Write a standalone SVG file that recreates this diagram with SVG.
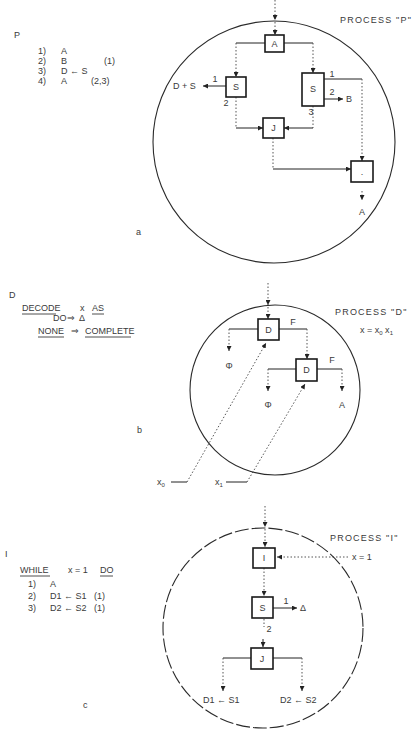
<svg xmlns="http://www.w3.org/2000/svg" width="415" height="730" viewBox="0 0 415 730">
<style>
  text { font-family: "Liberation Sans", "DejaVu Sans", sans-serif; font-size: 9px; fill: #3a3a3a; }
  .lbl { text-anchor: middle; }
  .proc { letter-spacing: 1.2px; }
  .box { fill: #fff; stroke: #1a1a1a; stroke-width: 1.6; }
  .circ { fill: none; stroke: #2a2a2a; stroke-width: 1.1; }
  .solid { fill: none; stroke: #222; stroke-width: 1; }
  .dot { fill: none; stroke: #555; stroke-width: 1; stroke-dasharray: 1.5 2; }
  .ul { stroke: #3a3a3a; stroke-width: 0.9; }
</style>
<defs>
  <marker id="ah" viewBox="0 0 6 6" refX="6" refY="3" markerWidth="5" markerHeight="5" orient="auto" markerUnits="userSpaceOnUse">
    <path d="M0,0 L6,3 L0,6 z" fill="#222"/>
  </marker>
</defs>

<!-- ===== Section a ===== -->
<g id="text-a">
  <text x="14" y="38">P</text>
  <text x="38" y="54">1)</text><text x="61" y="54">A</text>
  <text x="38" y="64">2)</text><text x="61" y="64">B</text><text x="104" y="64">(1)</text>
  <text x="38" y="74">3)</text><text x="61" y="74">D ← S</text>
  <text x="38" y="84">4)</text><text x="61" y="84">A</text><text x="91" y="84">(2,3)</text>
  <text x="136" y="235">a</text>
  <text class="proc" x="340" y="23">PROCESS "P"</text>
</g>
<g id="circle-a"><circle class="circ" cx="274" cy="142" r="121"/></g>

<g id="connectors">
  <!-- a -->
  <path class="dot" d="M275,0 V20" marker-end="url(#ah)"/>
  <path class="dot" d="M275,22 V35" marker-end="url(#ah)"/>
  <path class="solid" d="M265,43 H236"/>
  <path class="dot" d="M236,43 V77" marker-end="url(#ah)"/>
  <path class="solid" d="M284,43 H313"/>
  <path class="dot" d="M313,43 V73" marker-end="url(#ah)"/>
  <path class="solid" d="M226,86 H203" marker-end="url(#ah)"/>
  <path class="dot" d="M236,97 V128"/>
  <path class="solid" d="M236,128 H263" marker-end="url(#ah)"/>
  <path class="solid" d="M324,79 H362"/>
  <path class="dot" d="M362,79 V161" marker-end="url(#ah)"/>
  <path class="solid" d="M324,99 H343" marker-end="url(#ah)"/>
  <path class="dot" d="M313,106 V128"/>
  <path class="solid" d="M313,128 H284" marker-end="url(#ah)"/>
  <path class="dot" d="M273,138 V169"/>
  <path class="solid" d="M273,169 H351" marker-end="url(#ah)"/>
  <path class="dot" d="M362,191 V200" marker-end="url(#ah)"/>
  <!-- b -->
  <path class="dot" d="M268,283 V305" marker-end="url(#ah)"/>
  <path class="dot" d="M268,307 V319" marker-end="url(#ah)"/>
  <path class="solid" d="M258,329 H229"/>
  <path class="dot" d="M229,329 V351" marker-end="url(#ah)"/>
  <path class="solid" d="M279,329 H307"/>
  <path class="dot" d="M307,329 V359" marker-end="url(#ah)"/>
  <path class="solid" d="M296,369 H268"/>
  <path class="dot" d="M268,369 V391" marker-end="url(#ah)"/>
  <path class="solid" d="M317,369 H342"/>
  <path class="dot" d="M342,369 V391" marker-end="url(#ah)"/>
  <path class="solid" d="M171,482 H187"/>
  <path class="dot" d="M187,482 L266,343" marker-end="url(#ah)"/>
  <path class="solid" d="M226,482 H247"/>
  <path class="dot" d="M247,482 L305,384" marker-end="url(#ah)"/>
  <!-- c -->
  <path class="dot" d="M265,506 V527" marker-end="url(#ah)"/>
  <path class="dot" d="M265,529 V547" marker-end="url(#ah)"/>
  <path class="dot" d="M348,557 H277" marker-end="url(#ah)"/>
  <path class="dot" d="M264,568 V596" marker-end="url(#ah)"/>
  <path class="solid" d="M273,608 H297" marker-end="url(#ah)"/>
  <path class="dot" d="M264,619 V627"/>
  <path class="solid" d="M263,639 V647" marker-end="url(#ah)"/>
  <path class="solid" d="M251,658 H223"/>
  <path class="dot" d="M223,658 V691" marker-end="url(#ah)"/>
  <path class="solid" d="M273,658 H302"/>
  <path class="dot" d="M302,658 V691" marker-end="url(#ah)"/>
</g>

<g id="node-a-A"><rect class="box" x="265" y="35" width="19" height="17"/><text class="lbl" x="274.5" y="47">A</text></g>
<g id="node-a-S1"><rect class="box" x="226" y="77" width="20" height="20"/><text class="lbl" x="236" y="90">S</text>
  <text class="lbl" x="215" y="82">1</text><text class="lbl" x="226" y="106">2</text><text x="173" y="89">D + S</text></g>
<g id="node-a-S2"><rect class="box" x="302" y="73" width="22" height="33"/><text class="lbl" x="313" y="92">S</text>
  <text class="lbl" x="332" y="77">1</text><text class="lbl" x="332" y="95">2</text><text x="346" y="102">B</text><text class="lbl" x="311" y="115">3</text></g>
<g id="node-a-J"><rect class="box" x="263" y="118" width="21" height="20"/><text class="lbl" x="273.5" y="131">J</text></g>
<g id="node-a-end"><rect class="box" x="351" y="161" width="22" height="21"/><text class="lbl" x="362" y="175">.</text><text class="lbl" x="362" y="215">A</text></g>

<!-- ===== Section b ===== -->
<g id="text-b">
  <text x="9" y="298">D</text>
  <text x="22" y="311">DECODE</text><text x="80" y="311">x</text><text x="92" y="311">AS</text>
  <line class="ul" x1="22" y1="314" x2="56" y2="314"/><line class="ul" x1="92" y1="314" x2="104" y2="314"/>
  <text x="53" y="321">DO</text><text x="67" y="321">⇒</text><text x="79" y="321">Δ</text>
  <text x="38" y="334">NONE</text><text x="71" y="334">⇒</text><text x="85" y="334">COMPLETE</text>
  <line class="ul" x1="38" y1="337" x2="64" y2="337"/><line class="ul" x1="85" y1="337" x2="131" y2="337"/>
  <text x="137" y="433">b</text>
  <text class="proc" x="335" y="315">PROCESS "D"</text>
  <text x="360" y="333">x = x<tspan font-size="6" dy="2">0</tspan><tspan dy="-2"> x</tspan><tspan font-size="6" dy="2">1</tspan></text>
  <text x="157" y="485">x<tspan font-size="6" dy="2">0</tspan></text>
  <text x="215" y="485">x<tspan font-size="6" dy="2">1</tspan></text>
</g>
<g id="circle-b"><circle class="circ" cx="275" cy="390" r="85"/></g>
<g id="node-b-D1"><rect class="box" x="258" y="319" width="21" height="21"/><text class="lbl" x="268.5" y="333">D</text>
  <text class="lbl" x="293" y="325">F</text><text class="lbl" x="229" y="369">Φ</text></g>
<g id="node-b-D2"><rect class="box" x="296" y="359" width="21" height="22"/><text class="lbl" x="306.5" y="373">D</text>
  <text class="lbl" x="332" y="363">F</text><text class="lbl" x="268" y="408">Φ</text><text class="lbl" x="342" y="408">A</text></g>

<!-- ===== Section c ===== -->
<g id="text-c">
  <text x="5" y="557">I</text>
  <text x="20" y="573">WHILE</text><text x="68" y="573">x = 1</text><text x="100" y="573">DO</text>
  <line class="ul" x1="20" y1="576" x2="50" y2="576"/><line class="ul" x1="100" y1="576" x2="113" y2="576"/>
  <text x="28" y="587">1)</text><text x="50" y="587">A</text>
  <text x="28" y="599">2)</text><text x="50" y="599">D1 ← S1</text><text x="94" y="599">(1)</text>
  <text x="28" y="611">3)</text><text x="50" y="611">D2 ← S2</text><text x="94" y="611">(1)</text>
  <text x="83" y="708">c</text>
  <text class="proc" x="330" y="541">PROCESS "I"</text>
  <text x="352" y="560">x = 1</text>
</g>
<g id="circle-c"><circle class="circ" cx="263" cy="628" r="100" stroke-dasharray="14 3"/></g>
<g id="node-c-I"><rect class="box" x="253" y="548" width="22" height="20"/><text class="lbl" x="264" y="561">I</text></g>
<g id="node-c-S"><rect class="box" x="252" y="597" width="21" height="21"/><text class="lbl" x="262.5" y="611">S</text>
  <text class="lbl" x="286" y="604">1</text><text x="300" y="611">Δ</text><text class="lbl" x="269" y="632">2</text></g>
<g id="node-c-J"><rect class="box" x="251" y="648" width="22" height="21"/><text class="lbl" x="262" y="662">J</text>
  <text x="203" y="703">D1 ← S1</text><text x="280" y="703">D2 ← S2</text></g>
</svg>
